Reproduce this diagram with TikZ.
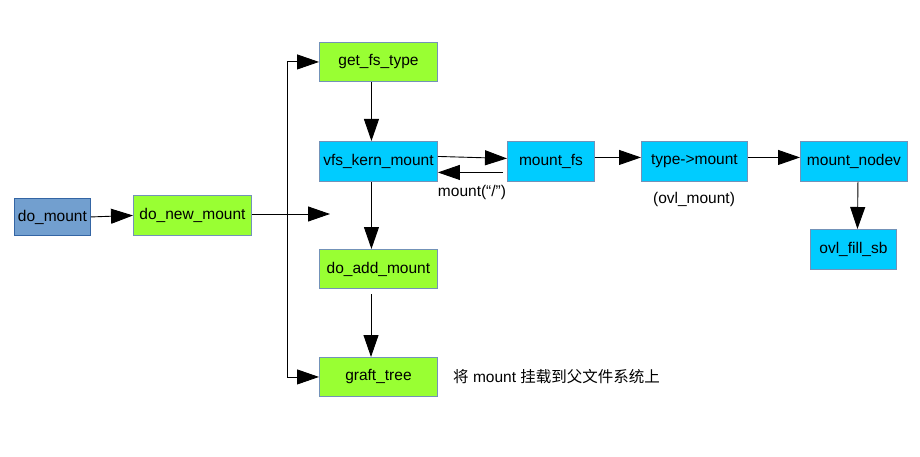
\documentclass[tikz,border=0pt]{standalone}
\usepackage{fontspec}
\setmainfont{Liberation Sans}
\newfontfamily\cjk{Noto Sans CJK SC}
\usetikzlibrary{arrows.meta,positioning}
\definecolor{bgreen}{HTML}{99FF33}
\definecolor{bcyan}{HTML}{00CCFF}
\definecolor{bblue}{HTML}{729FCF}
\definecolor{edgeblue}{HTML}{3465A4}
\definecolor{edgegray}{HTML}{7392B8}
\begin{document}
\begin{tikzpicture}[x=1pt,y=-1pt,
  font=\fontsize{15.5}{18}\selectfont,
  box/.style={draw=edgegray,line width=0.9pt,inner sep=0pt,anchor=north west},
  gbox/.style={box,fill=bgreen},
  cbox/.style={box,fill=bcyan},
  arr/.style={-{Triangle[length=22pt,width=15pt]},line width=0.9pt,black},
  lbl/.style={inner sep=0pt}]
\useasboundingbox (0,0) rectangle (920,457);
\node[box,fill=bblue,draw=edgeblue,minimum width=76pt,minimum height=37pt] (dm) at (14,198) {do\_mount};
\node[gbox,minimum width=118pt,minimum height=40pt] (dnm) at (133,195) {do\_new\_mount};
\node[gbox,minimum width=118pt,minimum height=39pt] (gft) at (319,42) {get\_fs\_type};
\node[cbox,minimum width=118pt,minimum height=40pt] (vkm) at (319,141) {vfs\_kern\_mount};
\node[cbox,minimum width=87pt,minimum height=40pt] (mfs) at (507,141) {mount\_fs};
\node[cbox,minimum width=106pt,minimum height=40pt] (tm) at (641,141) {type->mount};
\node[cbox,minimum width=107pt,minimum height=40pt] (mn) at (800,141) {mount\_nodev};
\node[cbox,minimum width=86pt,minimum height=40pt] (ofs) at (810,229) {ovl\_fill\_sb};
\node[gbox,minimum width=118pt,minimum height=39pt] (dam) at (319,249) {do\_add\_mount};
\node[gbox,minimum width=118pt,minimum height=39pt] (gt) at (319,357) {graft\_tree};
\node[lbl] (l1) at (472,192) {mount(“/”)};
\node[lbl] (l2) at (694,199) {(ovl\_mount)};
\node[lbl,anchor=west] (l3) at (453,377) {{\cjk 将} mount {\cjk 挂载到父文件系统上}};
\coordinate (free) at (330,214);
\coordinate (jn) at (287,214);
\coordinate (dabot) at (371,294);
\draw[arr] (dm.east) -- (dnm.west);
\draw[arr] (dnm.east |- free) -- (free);
\draw[arr] (jn) |- (gft.west);
\draw[arr] (jn) |- (gt.west);
\draw[arr] ([xshift=-7pt]gft.south) -- ([xshift=-7pt]vkm.north);
\draw[arr] ([yshift=5pt]vkm.east) -- ([yshift=3pt]mfs.west);
\draw[arr] ([xshift=-4pt,yshift=-11pt]mfs.west) -- ([yshift=-11pt]vkm.east);
\draw[arr] ([yshift=4pt]mfs.east) -- ([yshift=4pt]tm.west);
\draw[arr] ([yshift=4pt]tm.east) -- ([yshift=4pt]mn.west);
\draw[arr] ([xshift=4pt]mn.south) -- ([xshift=4pt]ofs.north);
\draw[arr] ([xshift=-7pt]vkm.south) -- ([xshift=-7pt]dam.north);
\draw[arr] (dabot) -- (dabot |- gt.north);
\end{tikzpicture}
\end{document}
